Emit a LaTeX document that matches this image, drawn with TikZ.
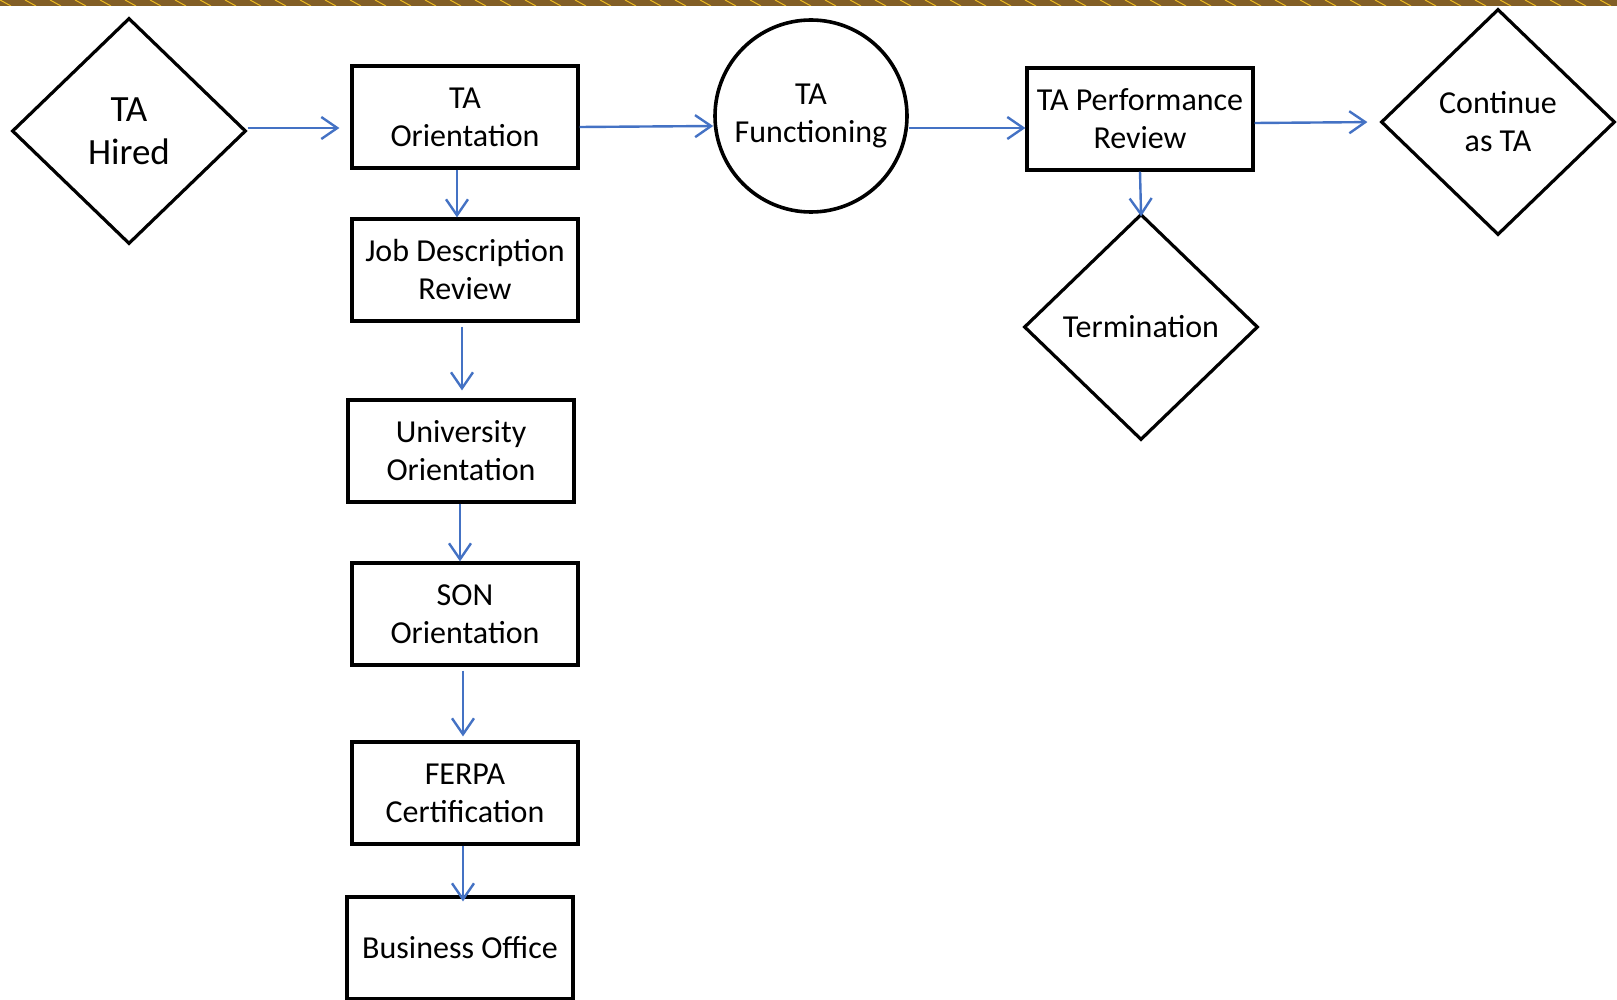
\documentclass[tikz,border=0pt]{standalone}
\usepackage{fontspec}
\setmainfont{Carlito}
\usepackage{tikz}
\usetikzlibrary{shapes.geometric, arrows.meta, positioning}
\definecolor{cBlue}{RGB}{68,114,196}
\definecolor{cBrown}{RGB}{130,94,38}
\definecolor{cGold}{RGB}{235,185,30}
\tikzset{
	procbox/.style ={rectangle, draw=black, line width=3.2pt, minimum width=226pt, minimum height=102pt, align=center, inner sep=2pt, font=\fontsize{32}{38}\selectfont},
	decision/.style={diamond, draw=black, line width=3.2pt, minimum width=234pt, minimum height=226pt, align=center, inner sep=0pt, font=\fontsize{32}{38}\selectfont},
	statecirc/.style={circle, draw=black, line width=3.6pt, minimum size=192pt, align=center, inner sep=0pt, font=\fontsize{32}{38}\selectfont},
	flowarrow/.style={-{Straight Barb[length=16pt, width=22pt, line width=2.4pt]}, draw=cBlue, line width=2.4pt},
}
\begin{document}
\begin{tikzpicture}[x=1pt, y=-1pt]
	\useasboundingbox (0,0) rectangle (1617,1000);
	% top band
	\begin{scope}
		\clip (0,0) rectangle (1617,6);
		\fill[cBrown] (0,0) rectangle (1617,6);
		\foreach \x in {-25,0,...,1625}
			\draw[cGold, line width=1pt] (\x,0) -- (\x+11,6);
	\end{scope}

	% nodes
	\node[decision, font=\fontsize{37}{43}\selectfont] (hired) at (129,131) {TA\\Hired};
	\node[procbox] (taori) at (465,117) {TA\\Orientation};
	\node[procbox] (jobrev) at (465,270) {Job Description\\Review};
	\node[procbox] (uniori) at (461,451) {University\\Orientation};
	\node[procbox] (sonori) at (465,614) {SON\\Orientation};
	\node[procbox] (ferpa) at (465,793) {FERPA\\Certification};
	\node[procbox] (busoff) at (460,948) {Business Office};
	\node[statecirc] (func) at (811,116) {TA\\Functioning};
	\node[procbox] (perf) at (1140,119) {TA Performance\\Review};
	\node[decision] (cont) at (1498,122) {Continue\\as TA};
	\node[decision] (term) at (1141,327) {Termination};

	% connectors
	\draw[flowarrow, shorten >=11pt] ([yshift=3pt]hired.east) -- ([yshift=3pt]taori.west |- hired.east);
	\draw[flowarrow] ([yshift=-10pt]taori.east) -- ([yshift=-10pt]func.west);
	\draw[flowarrow] ([yshift=-12pt]func.east) -- ([yshift=-9pt]perf.west);
	\draw[flowarrow, shorten >=12pt] ([yshift=-4pt]perf.east) -- (cont.west);
	\draw[flowarrow] ([xshift=-8pt]taori.south) -- ([xshift=-8pt]jobrev.north);
	\draw[flowarrow, shorten <=4pt, shorten >=8pt] ([xshift=-3pt]jobrev.south) -- ([xshift=1pt]uniori.north);
	\draw[flowarrow] ([xshift=-1pt]uniori.south) -- ([xshift=-5pt]sonori.north);
	\draw[flowarrow, shorten <=4pt, shorten >=4pt] ([xshift=-2pt]sonori.south) -- ([xshift=-2pt]ferpa.north);
	\draw[flowarrow, shorten >=-6pt] ([xshift=-2pt]ferpa.south) -- ([xshift=3pt]busoff.north);
	\draw[flowarrow, shorten >=-4pt] (perf.south) -- (term.north);
\end{tikzpicture}
\end{document}
